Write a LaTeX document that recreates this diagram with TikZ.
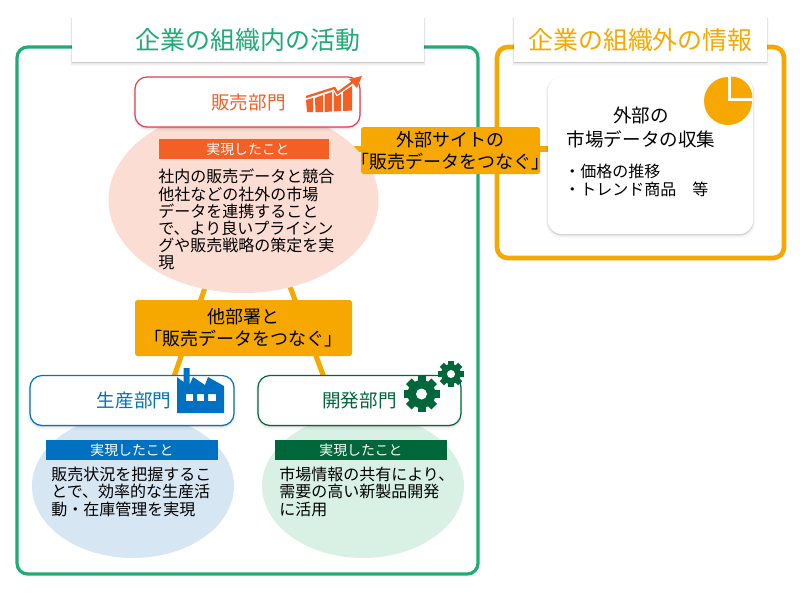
\documentclass[tikz,border=0pt]{standalone}
\usepackage{fontspec}
\setmainfont{Noto Sans CJK JP}
\usetikzlibrary{shapes.geometric,backgrounds}
\definecolor{frameG}{HTML}{1FAB74}
\definecolor{amber}{HTML}{F7A800}
\definecolor{salesC}{HTML}{F45F26}
\definecolor{salesB}{HTML}{E5404F}
\definecolor{prodC}{HTML}{0070C0}
\definecolor{devC}{HTML}{00673A}
\definecolor{salesE}{HTML}{FCDDD3}
\definecolor{prodE}{HTML}{D7E6F3}
\definecolor{devE}{HTML}{D8F1E4}
\tikzset{
  softshadow/.style={
    preaction={fill=black,draw=black,line width=3.5pt,opacity=.025,transform canvas={yshift=-1.5pt}},
    preaction={fill=black,draw=black,line width=2pt,opacity=.035,transform canvas={yshift=-1pt}},
    preaction={fill=black,draw=black,line width=.8pt,opacity=.05,transform canvas={yshift=-.5pt}}},
  frameBox/.style={draw=#1,rounded corners=8pt,fill=none,inner sep=0pt},
  titleBox/.style={fill=white,softshadow,inner sep=0pt,text=#1,font=\fontsize{18.7}{22}\selectfont},
  deptBox/.style={draw=#1,line width=.9pt,fill=white,softshadow,rounded corners=9pt,inner sep=0pt,
    minimum height=37.5pt,font=\fontsize{13.9}{16}\selectfont},
  blob/.style={ellipse,fill=#1,inner sep=0pt},
  doneBar/.style={fill=#1,inner sep=0pt,minimum height=15pt,text=white,font=\fontsize{10.4}{12}\selectfont},
  bodyText/.style={align=left,anchor=north west,inner sep=0pt,text=black,font=\fontsize{12}{12.9}\selectfont},
  joinBox/.style={fill=amber,rounded corners=2pt,inner sep=0pt,align=center,text=black,font=\fontsize{13.5}{16.5}\selectfont},
  joinLine/.style={draw=amber,line width=3.8pt},
  card/.style={fill=white,softshadow,rounded corners=10pt,inner sep=0pt}
}
\begin{document}
\begin{tikzpicture}[x=0.75pt,y=-0.75pt]
\useasboundingbox (0,0) rectangle (800,594);

% frames
\node[frameBox=frameG,line width=2.4pt,minimum width=345.75pt,minimum height=395.25pt] (inner) at (247.5,310.5) {};
\node[frameBox=amber,line width=3.5pt,minimum width=215.25pt,minimum height=158.25pt] (outer) at (640.5,152.5) {};
\node[titleBox=frameG,minimum width=264pt,minimum height=33pt] (innerT) at (248,40) {企業の組織内の活動};
\node[titleBox=amber,minimum width=189.75pt,minimum height=33pt] (outerT) at (640.5,40) {企業の組織外の情報};

% blobs
\node[blob=salesE,minimum width=202.5pt,minimum height=139.5pt] (salesB) at (243.5,200) {};
\node[blob=prodE,minimum width=151.5pt,minimum height=108pt] (prodB) at (133,486) {};
\node[blob=devE,minimum width=151.5pt,minimum height=108pt] (devB) at (363,486) {};

% department boxes
\node[deptBox=salesB,minimum width=168.75pt,text=salesC] (sales) at (247.5,102) {\hspace*{1.5pt}販売部門};
\node[deptBox=prodC,minimum width=153pt,text=prodC] (prod) at (132,400.5) {\hspace*{3pt}生産部門};
\node[deptBox=devC,minimum width=152.25pt,text=devC] (dev) at (359.5,400.5) {開発部門};

% done bars
\node[doneBar=salesC,minimum width=127.5pt] (salesD) at (244,149) {\hspace*{6pt}実現したこと};
\node[doneBar=prodC,minimum width=129pt] (prodD) at (132,450) {実現したこと};
\node[doneBar=devC,minimum width=129pt] (devD) at (361,450) {実現したこと};

% body texts
\node[bodyText] (salesX) at (158,169) {社内の販売データと競合\\他社などの社外の市場\\データを連携すること\\で、より良いプライシン\\グや販売戦略の策定を実\\現};
\node[bodyText] (prodX) at (51,467) {販売状況を把握するこ\\とで、効率的な生産活\\動・在庫管理を実現};
\node[bodyText] (devX) at (279,467) {市場情報の共有により、\\需要の高い新製品開発\\に活用};

% external card
\node[card,minimum width=153.75pt,minimum height=117.75pt] (ext) at (650.5,155.5) {};
\node[inner sep=0pt,align=center,font=\fontsize{13.9}{18}\selectfont] (extH) at (641,127) {外部の\\市場データの収集};
\node[inner sep=0pt,align=left,anchor=north west,font=\fontsize{12}{13.5}\selectfont] (extL) at (564,164) {・価格の推移\\・トレンド商品　等};

% join boxes
\node[joinBox,minimum width=134.25pt,minimum height=35.25pt,text width=134.25pt] (joinE) at (450.5,150.5) {外部サイトの\\\makebox[\linewidth][c]{「販売データをつなぐ」}};
\node[joinBox,minimum width=162.75pt,minimum height=42pt] (joinI) at (243.5,328) {他部署と\\「販売データをつなぐ」};

% free ends of connectors
\coordinate (hubL) at (243,179);
\coordinate (hubR) at (243,161);
\coordinate (prodJ) at (170,388);
\coordinate (devJ) at (328,388);
\coordinate (extS) at (352,149);
\coordinate (extE) at (560,149);

\begin{scope}[on background layer]
  \draw[joinLine] (hubL) -- (prodJ);
  \draw[joinLine] (hubR) -- (devJ);
  \draw[joinLine] (extS) -- (extE);
\end{scope}

% chart icon
\fill[salesC] (306,100) -- (313,98) -- (313,112) -- (307,112) -- cycle;
\fill[salesC] (315,98) -- (323,95) -- (323,112) -- (315.5,112) -- cycle;
\fill[salesC] (324.5,94.5) -- (332,92) -- (332,111.5) -- (324.5,112) -- cycle;
\fill[salesC] (333.5,91) -- (336.5,96.5) -- (341,94) -- (341,111) -- (333.5,111.5) -- cycle;
\fill[salesC] (343,92) -- (352,86) -- (352,110.5) -- (343,111) -- cycle;
\draw[salesC,line width=1.7pt] (306,97) -- (334.5,88) -- (337.5,93) -- (354,81);
\fill[salesC] (362,76) -- (349,79) -- (357,88) -- cycle;

% factory icon
\fill[prodC,even odd rule] (177,377) -- (183.5,382) -- (183.5,368) -- (189.5,368) -- (189.5,385) -- (193,377)
  -- (205,385) -- (208,377) -- (224,386) -- (224,413) -- (177,413) -- cycle
  (186,394) rectangle (193,401) (197,394) rectangle (204,401) (208,394) rectangle (216,401);

% gears
\foreach \gx/\gy/\ga/\gb/\gc/\gw in {421.5/394/18/14/5.5/4, 451/374/13/10/4/3}{
  \begin{scope}[shift={(\gx,\gy)}]
    \fill[devC] (0,0) circle[radius=\gb];
    \foreach \t in {0,45,...,135}{
      \fill[devC,rotate=\t] (-\gw,-\ga) rectangle (\gw,\ga);
    }
    \fill[white] (0,0) circle[radius=\gc];
  \end{scope}
}

% pie icon
\fill[amber] (728,101) -- (728,77) arc[start angle=-90,end angle=-360,radius=24] -- cycle;
\fill[amber] (731,98) -- (731,76.5) arc[start angle=-90,end angle=0,radius=21.5] -- cycle;
\end{tikzpicture}
\end{document}
